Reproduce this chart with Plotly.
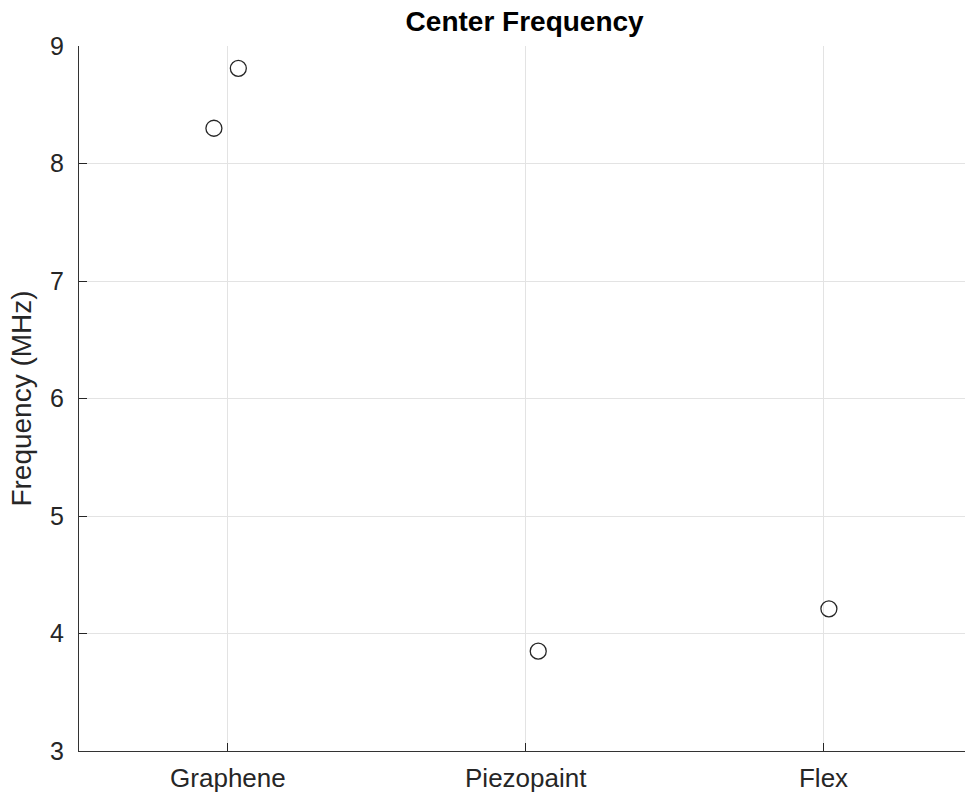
import plotly.graph_objects as go

categories = ["Graphene", "Piezopaint", "Flex"]
cat_index = [1, 1, 2, 3]
jitter = [-0.047, 0.035, 0.042, 0.018]
freq_mhz = [8.30, 8.81, 3.85, 4.21]

xs = [c + j for c, j in zip(cat_index, jitter)]

fig = go.Figure()
fig.add_trace(go.Scatter(
    x=xs, y=freq_mhz, mode="markers",
    marker=dict(symbol="circle-open", size=16, color="#262626", line=dict(width=1.3, color="#262626")),
    showlegend=False, hoverinfo="y"))

font = "Liberation Sans, Arial, sans-serif"
fig.update_layout(
    width=965, height=798,
    margin=dict(l=79, r=0, t=46, b=47),
    plot_bgcolor="white", paper_bgcolor="white",
    font=dict(family=font, color="#262626", size=25),
    title=dict(text="<b>Center Frequency</b>", x=0.503, xref="paper", xanchor="center",
               y=0.973, yref="container", yanchor="middle", font=dict(size=28, color="#000000")),
    xaxis=dict(range=[0.5, 3.475], tickvals=[1, 2, 3], ticktext=categories,
               showgrid=True, gridcolor="#e3e3e3", gridwidth=1,
               showline=True, linecolor="#333333", linewidth=1.4,
               ticks="inside", ticklen=8, tickcolor="#262626", tickwidth=1,
               ticklabelstandoff=4, zeroline=False, tickfont=dict(size=26)),
    yaxis=dict(range=[3, 9], tickvals=[3, 4, 5, 6, 7, 8, 9],
               showgrid=True, gridcolor="#e3e3e3", gridwidth=1,
               showline=True, linecolor="#333333", linewidth=1.4,
               ticks="inside", ticklen=8, tickcolor="#262626", tickwidth=1,
               ticklabelstandoff=9, zeroline=False, tickfont=dict(size=25),
               title=dict(text="Frequency (MHz)", font=dict(size=28), standoff=10)),
)

fig.write_html("out.html")
